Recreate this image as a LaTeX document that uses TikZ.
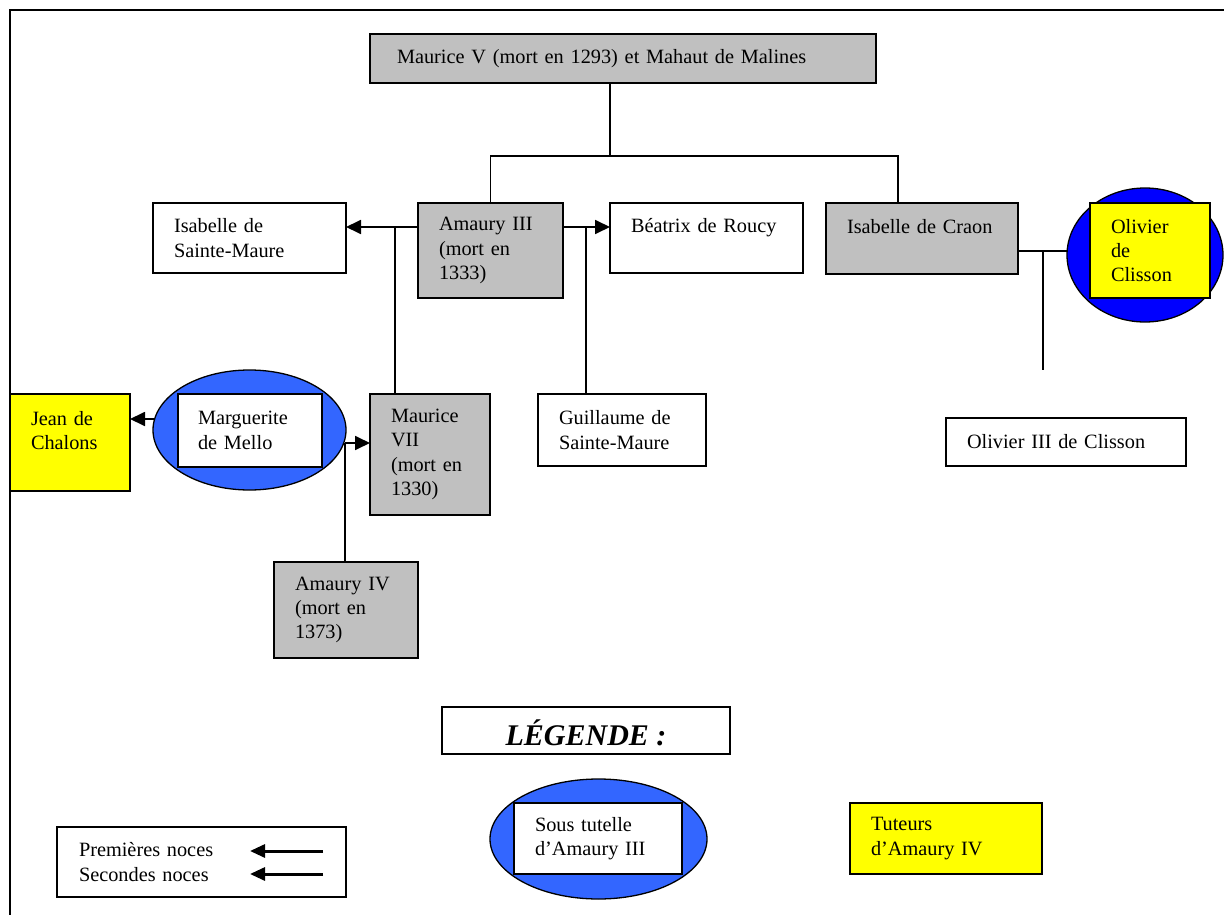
\documentclass[tikz,border=0pt]{standalone}
\usepackage{fontspec}
\setmainfont{Liberation Serif}
\usetikzlibrary{arrows.meta,shapes.geometric}
\definecolor{grisbox}{HTML}{C0C0C0}
\definecolor{bleuvif}{HTML}{0000FF}
\definecolor{bleuclair}{HTML}{3366FF}
\definecolor{jaune}{HTML}{FFFF00}
\begin{document}
\begin{tikzpicture}[x=1pt,y=-1pt,
  every node/.style={font=\fontsize{20.3}{24.3}\selectfont},
  box/.style={draw,line width=1.3pt,rectangle,anchor=north west,align=left,
    inner xsep=21pt,inner ysep=0pt,outer sep=0pt},
  oval/.style={draw,line width=1.3pt,ellipse,inner sep=0pt,outer sep=0pt},
  link/.style={line width=1.5pt},
  wed/.style={line width=1.8pt,-{Triangle[length=15pt,width=14pt]}},
  legarrow/.style={line width=3pt,-{Triangle[length=15pt,width=13pt]}}]
\useasboundingbox (0,0) rectangle (1224,915);
% frame
\draw[line width=2pt] (10,915) -- (10,10) -- (1224,10);
% first generation
\node[box,fill=grisbox,inner xsep=27pt,text width=452pt,minimum height=49pt] (maur5) at (370,34) {Maurice V (mort en 1293) et Mahaut de Malines};
% children
\node[box,fill=grisbox,text width=103pt,minimum height=95pt] (am3) at (418,203) {Amaury III\\(mort en\\1333)};
\node[box,fill=grisbox,text width=150pt,minimum height=71pt] (craon) at (826,203) {\mbox{Isabelle de Craon}\\~};
% spouses
\node[box,text width=151pt,minimum height=70pt] (isab) at (153,203) {Isabelle de\\Sainte-Maure};
\node[box,text width=151pt,minimum height=70pt] (beat) at (610,203) {\mbox{Béatrix de Roucy}\\~};
\node[oval,fill=bleuvif,minimum width=156pt,minimum height=134pt] (olc) at (1145,255) {};
\node[box,fill=jaune,text width=78pt,minimum height=95pt] (olcin) at (1090,203) {Olivier\\de\\Clisson};
% grandchildren
\node[box,fill=grisbox,text width=78pt,minimum height=121pt] (m7) at (370,394) {Maurice\\VII\\(mort en\\1330)};
\node[box,text width=126pt,minimum height=72pt] (guil) at (538,394) {Guillaume de\\Sainte-Maure};
\node[box,text width=198pt,minimum height=48pt] (olv3) at (946,418) {Olivier III de Clisson};
\node[oval,fill=bleuclair,minimum width=193pt,minimum height=120pt] (marg) at (249.5,430) {};
\node[box,fill=white,inner xsep=20pt,text width=104pt,minimum height=73pt] (margin) at (178,394) {Marguerite\\de Mello};
\node[box,fill=jaune,text width=78pt,minimum height=97pt] (jean) at (10,394) {Jean de\\Chalons\\~};
\node[box,fill=grisbox,text width=102pt,minimum height=96pt] (am4) at (274,562) {Amaury IV\\(mort en\\1373)};
% descent lines
\coordinate (fork) at (610,156);
\draw[link] (maur5.south -| fork) -- (fork);
\draw[link] (am3.north) |- (fork) -| (craon.north -| 898,0);
% marriages
\coordinate (w1) at (395,227);
\coordinate (w2) at (586,227);
\coordinate (w3) at (1043,251);
\coordinate (w4) at (345,443);
\coordinate (w5) at (155,419);
\draw[wed] (am3.west |- w1) -- (isab.east |- w1);
\draw[link] (w1) -- (w1 |- m7.north);
\draw[wed] (am3.east |- w2) -- (beat.west |- w2);
\draw[link] (w2) -- (w2 |- guil.north);
\draw[link] (craon.east |- w3) -- (w3 -| olc.west);
\draw[link] (w3) -- ++(0,119);
\draw[wed] (w5) -- (w5 -| jean.east);
\draw[wed] (w4) -- (w4 -| m7.west);
\draw[link] (w4) -- (w4 |- am4.north);
% legend
\node[box,anchor=north west,minimum width=288pt,minimum height=47pt] (lgd) at (442,707) {};
\node[font=\fontsize{30}{32}\selectfont\bfseries\itshape,anchor=base] (lgdtxt) at (586,745) {LÉGENDE :};
\node[oval,fill=bleuclair,minimum width=217pt,minimum height=120pt] (lgoval) at (598.5,839) {};
\node[box,fill=white,text width=126pt,minimum height=71pt] (lgin) at (514,803) {Sous tutelle\\d’Amaury III};
\node[box,fill=jaune,text width=150pt,minimum height=71pt] (tut) at (850,803) {Tuteurs\\d’Amaury IV};
\node[box,inner xsep=22pt,text width=245pt,minimum height=70pt] (noces) at (57,827) {Premières noces\\Secondes noces};
\coordinate (n1) at (323,851);
\coordinate (n2) at (323,874);
\draw[legarrow] (n1) -- ++(-73,0);
\draw[legarrow] (n2) -- ++(-73,0);
\end{tikzpicture}
\end{document}
